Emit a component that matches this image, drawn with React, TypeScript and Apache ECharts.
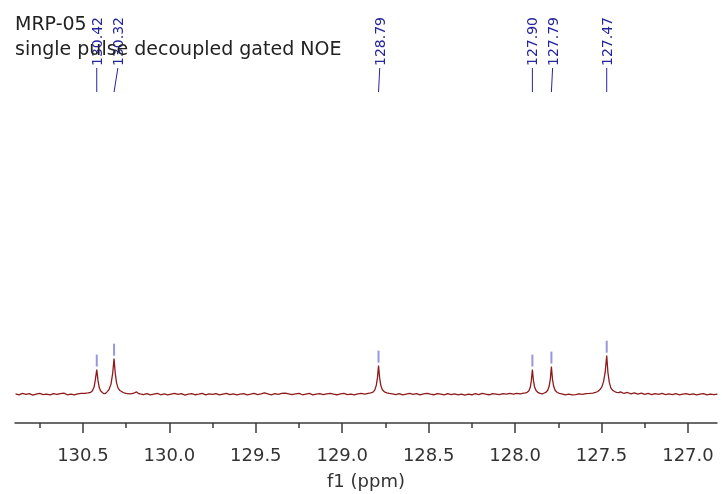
import React, { useEffect, useRef } from "react";
import * as echarts from "echarts";

// ---- data ----
const titleLines = ["MRP-05", "single pulse decoupled gated NOE"];
const axisName = "f1 (ppm)";
const xMin = 126.832;
const xMax = 130.893;
const majorTicks = [130.5, 130.0, 129.5, 129.0, 128.5, 128.0, 127.5, 127.0];
const minorTicks = [130.75, 130.25, 129.75, 129.25, 128.75, 128.25, 127.75, 127.25];

const peakPpm = [130.42, 130.32, 128.79, 127.9, 127.79, 127.47];
const peakLabels = ["130.42", "130.32", "128.79", "127.90", "127.79", "127.47"];
const peakHeights = [25, 36, 29, 25, 28, 39];
const labelPpm = [130.42, 130.298, 128.783, 127.9, 127.783, 127.47];

// spectrum points [ppm, intensity]
const spectrum: number[][] = [
  [130.89, 0.3], [130.87, -0.6], [130.85, 0.8], [130.83, -0.2], [130.81, 0.6], [130.79, -0.8], [130.77, 0.2], [130.75, 1.0],
  [130.73, -0.3], [130.71, 0.1], [130.69, -0.7], [130.67, 0.6], [130.65, -0.2], [130.63, 0.7], [130.61, 1.2], [130.59, -0.5],
  [130.57, 0.2], [130.55, -0.6], [130.53, 0.3], [130.51, 0.8], [130.49, 0.9], [130.47, 1.3],
  [130.455, 2.0], [130.445, 3.5], [130.435, 7.5], [130.428, 15], [130.42, 25], [130.413, 14], [130.406, 7], [130.398, 3.5],
  [130.388, 1.8], [130.378, 0.6], [130.37, 0.8],
  [130.362, 2.2], [130.35, 4.5], [130.338, 10], [130.328, 21], [130.32, 36], [130.313, 21], [130.305, 11], [130.296, 6],
  [130.286, 3.8], [130.274, 2.5], [130.262, 1.5], [130.25, 0.9],
  [130.23, 0.4], [130.21, 0.8], [130.19, 2.4], [130.18, 1.0], [130.17, 0.3], [130.15, -0.4], [130.13, 0.7], [130.11, -0.6],
  [130.09, 0.2], [130.07, 0.9], [130.05, -0.5], [130.03, 0.3], [130.01, -0.7], [129.99, 0.1], [129.97, 0.8], [129.95, -0.2],
  [129.93, 0.6], [129.91, -0.8], [129.89, 0.2], [129.87, 0.7], [129.85, -0.5], [129.83, 0.1], [129.81, 0.8], [129.79, -0.6],
  [129.77, 0.3], [129.75, -0.1], [129.73, 0.7], [129.71, -0.7], [129.69, 0.2], [129.67, 0.9], [129.65, -0.4], [129.63, 0.3],
  [129.61, -0.6], [129.59, 0.1], [129.57, 0.7], [129.55, -0.5], [129.53, 0.2], [129.51, 1.0], [129.49, -0.4], [129.47, 0.4],
  [129.45, 1.4], [129.43, 0.3], [129.41, -0.5], [129.39, 0.7], [129.37, -0.1], [129.35, 0.8], [129.33, 1.2], [129.31, 0.4],
  [129.29, -0.4], [129.27, 0.3], [129.25, 0.9], [129.23, -0.5], [129.21, 0.2], [129.19, 0.8], [129.17, -0.6], [129.15, 0.1],
  [129.13, 0.7], [129.11, -0.4], [129.09, 0.4], [129.07, 1.0], [129.05, 0.1], [129.03, -0.5], [129.01, 0.3], [128.99, 0.8],
  [128.97, -0.4], [128.95, 0.2], [128.93, -0.6], [128.91, 0.3], [128.89, 0.9], [128.87, 0.2], [128.85, 1.0], [128.835, 1.4],
  [128.822, 2.2], [128.812, 4.2], [128.803, 9], [128.796, 17], [128.79, 29], [128.784, 17], [128.777, 9], [128.768, 4.5],
  [128.756, 2.5], [128.742, 1.5], [128.728, 0.8],
  [128.71, 0.3], [128.69, -0.4], [128.67, 0.7], [128.65, -0.5], [128.63, 0.2], [128.61, 0.9], [128.59, -0.1], [128.57, 0.6],
  [128.55, -0.6], [128.53, 0.3], [128.51, 1.0], [128.49, 0.1], [128.47, -0.5], [128.45, 0.7], [128.43, 0.2], [128.41, -0.7],
  [128.39, 0.6], [128.37, -0.4], [128.35, 0.3], [128.33, -0.6], [128.31, 0.2], [128.29, -0.8], [128.27, 0.1], [128.25, -0.5],
  [128.23, 0.6], [128.21, -0.4], [128.19, 0.8], [128.17, 0.1], [128.15, -0.5], [128.13, 0.6], [128.11, 0.2], [128.09, -0.4],
  [128.07, 0.7], [128.05, 0.1], [128.03, 0.8], [128.01, 0.2], [127.99, 1.0], [127.97, 0.4], [127.95, 1.1], [127.94, 1.4],
  [127.93, 2.0], [127.92, 3.5], [127.912, 7], [127.906, 14], [127.9, 25], [127.894, 14], [127.887, 7], [127.878, 3.5],
  [127.866, 1.6], [127.855, 0.8], [127.845, 0.5], [127.835, 1.0],
  [127.822, 2.0], [127.812, 3.8], [127.803, 8], [127.796, 15.5], [127.79, 28], [127.784, 15.5], [127.777, 8], [127.768, 3.8],
  [127.756, 1.8], [127.744, 0.9],
  [127.73, 0.4], [127.71, -0.5], [127.69, 0.2], [127.67, -0.7], [127.65, -0.4], [127.63, 0.3], [127.61, -0.1], [127.59, 0.6],
  [127.57, 0.8], [127.55, 1.2], [127.535, 1.8],
  [127.522, 2.8], [127.51, 4.5], [127.498, 7.5], [127.488, 13], [127.479, 22], [127.47, 39], [127.463, 22], [127.455, 12],
  [127.446, 6.5], [127.436, 4], [127.425, 2.8], [127.413, 2.0], [127.4, 1.6],
  [127.39, 2.4], [127.37, 0.8], [127.35, 1.8], [127.33, 0.4], [127.31, 1.4], [127.29, 0.2], [127.27, 1.1], [127.25, 0.0],
  [127.23, 0.8], [127.21, -0.3], [127.19, 0.7], [127.17, -0.1], [127.15, 0.8], [127.13, -0.4], [127.11, 0.3], [127.09, -0.3],
  [127.07, 0.6], [127.05, -0.5], [127.03, 0.2], [127.01, 0.7], [126.99, -0.4], [126.97, 0.3], [126.95, -0.6], [126.93, 0.1],
  [126.91, 0.6], [126.89, -0.5], [126.87, 0.2], [126.85, -0.4], [126.83, 0.1],
];

const FONT = "DejaVu Sans";
const SPEC_COLOR = "#8e1b1b";
const LABEL_COLOR = "#25259c";
const MARK_COLOR = "#7d7dd6";
const AXIS_COLOR = "#3a3a3a";

export default function App() {
  const ref = useRef<HTMLDivElement>(null);
  useEffect(() => {
    if (!ref.current) return;
    const chart = echarts.init(ref.current, undefined, { renderer: "svg" });
    const option: any = {
      animation: false,
      textStyle: { fontFamily: FONT },
      title: {
        text: titleLines.join("\n"),
        left: 15,
        top: 10,
        padding: 0,
        textStyle: { fontFamily: FONT, fontSize: 19, fontWeight: "normal", color: "#222", lineHeight: 25 },
      },
      grid: { left: 15, right: 5, top: 100, bottom: 68 },
      xAxis: [
        {
          type: "value",
          inverse: true,
          min: xMin,
          max: xMax,
          position: "bottom",
          axisLine: { show: true, onZero: false, lineStyle: { color: AXIS_COLOR, width: 1.5 } },
          axisTick: { show: true, length: 10, customValues: majorTicks, lineStyle: { color: AXIS_COLOR, width: 1.5 } },
          axisLabel: {
            customValues: majorTicks,
            formatter: (v: number) => v.toFixed(1),
            fontSize: 18,
            color: "#333",
            fontFamily: FONT,
            margin: 22,
          },
          splitLine: { show: false },
          name: axisName,
          nameLocation: "middle",
          nameGap: 48,
          nameTextStyle: { fontSize: 18, color: "#333", fontFamily: FONT },
        },
        {
          type: "value",
          inverse: true,
          min: xMin,
          max: xMax,
          position: "bottom",
          axisLine: { show: false, onZero: false },
          axisTick: { show: true, length: 5, customValues: minorTicks, lineStyle: { color: AXIS_COLOR, width: 1.5 } },
          axisLabel: { show: false },
          splitLine: { show: false },
        },
      ],
      yAxis: { type: "value", min: -29, max: 297, show: false },
      series: [
        {
          type: "line",
          data: spectrum,
          showSymbol: false,
          symbol: "none",
          lineStyle: { color: SPEC_COLOR, width: 1.3 },
          silent: true,
        },
        {
          type: "scatter",
          data: peakPpm.map((p, i) => [p, peakHeights[i] + 9]),
          symbol: "rect",
          symbolSize: [2, 12],
          itemStyle: { color: MARK_COLOR },
          silent: true,
        },
      ],
    };
    chart.setOption(option);

    const gx = (v: number) => chart.convertToPixel({ xAxisIndex: 0 }, v) as number;
    const graphics: any[] = [];
    peakLabels.forEach((lab, i) => {
      const lx = gx(labelPpm[i]);
      const px = gx(peakPpm[i]);
      graphics.push({
        type: "text",
        x: lx,
        y: 66,
        rotation: Math.PI / 2,
        style: {
          text: lab,
          fill: LABEL_COLOR,
          font: `14px "${FONT}"`,
          textAlign: "left",
          textVerticalAlign: "middle",
        },
      });
      graphics.push({
        type: "line",
        shape: { x1: lx, y1: 68, x2: px, y2: 92 },
        style: { stroke: LABEL_COLOR, lineWidth: 1 },
      });
    });
    chart.setOption({ graphic: graphics });

    return () => chart.dispose();
  }, []);
  return <div ref={ref} style={{ position: "fixed", left: 0, top: 0, width: 722, height: 494 }} />;
}
